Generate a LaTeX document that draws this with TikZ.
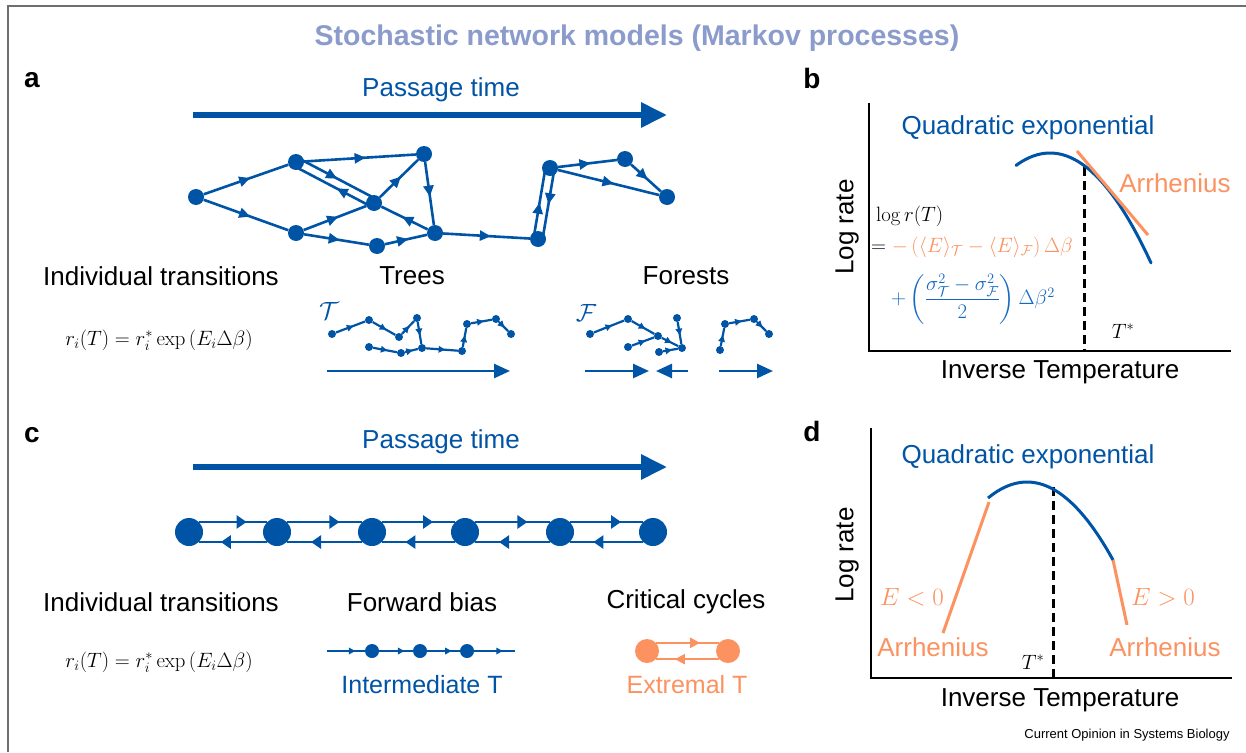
\documentclass[tikz,border=0pt]{standalone}
\usepackage{amsmath}
\usepackage[no-math]{fontspec}
\setmainfont{Liberation Sans}
\usetikzlibrary{arrows.meta,decorations.markings,calc}
\definecolor{nblue}{RGB}{0,84,166}
\definecolor{fblue}{RGB}{20,105,195}
\definecolor{norange}{RGB}{252,146,96}
\definecolor{ntitle}{RGB}{138,155,204}
\definecolor{ngray}{RGB}{110,110,110}
\tikzset{
  dot/.style={circle, fill=nblue, inner sep=0pt, minimum size=16pt},
  sdot/.style={circle, fill=nblue, inner sep=0pt, minimum size=8pt},
  bigdot/.style={circle, fill=nblue, inner sep=0pt, minimum size=28pt},
  mdot/.style={circle, fill=nblue, inner sep=0pt, minimum size=14pt},
  odot/.style={circle, fill=norange, inner sep=0pt, minimum size=24pt},
  edge/.style={nblue, line width=2.6pt},
  tedge/.style={nblue, line width=2.2pt},
  ma/.style={postaction={decorate}, decoration={markings, mark=at position #1 with {\arrow{Triangle[length=11pt,width=10pt]}}}},
  ma/.default=0.55,
  sma/.style={postaction={decorate}, decoration={markings, mark=at position #1 with {\arrow{Triangle[length=6.5pt,width=6.5pt]}}}},
  sma/.default=0.6,
  cma/.style={postaction={decorate}, decoration={markings, mark=at position #1 with {\arrow{Triangle[length=10pt,width=13pt]}}}},
  lbl/.style={font=\fontsize{26}{30}\selectfont, inner sep=0pt},
  plbl/.style={font=\fontsize{28}{32}\selectfont\bfseries, inner sep=0pt},
  bigarrow/.style={nblue, line width=6pt, -{Triangle[length=26pt,width=24pt]}},
  medarrow/.style={nblue, line width=2.6pt, -{Triangle[length=16pt,width=14pt]}},
  axis/.style={black, line width=2.6pt},
  dashln/.style={black, line width=3pt, dash pattern=on 9pt off 5pt},
}
\begin{document}
\begin{tikzpicture}[x=1pt,y=-1pt]
\useasboundingbox (0,0) rectangle (1246,752);
\fill[white] (0,0) rectangle (1246,752);
% frame
\draw[ngray, line width=2.2pt] (8,752) -- (8,6) -- (1246,6);
% title
\node[font=\fontsize{28.5}{32}\selectfont\bfseries, text=ntitle, inner sep=0pt] (title) at (637,38) {Stochastic network models (Markov processes)};
% panel labels
\node[plbl] (la) at (32,80) {a};
\node[plbl] (lb) at (812,78) {b};
\node[plbl] (lc) at (32,435) {c};
\node[plbl] (ld) at (812,431) {d};

% ---------- panel a ----------
\coordinate (pa0) at (193,115);
\coordinate (pa1) at (667,115);
\draw[bigarrow] (pa0) -- (pa1);
\node[lbl, text=nblue] (pta) at (441,90) {Passage time};

\node[dot] (n1) at (196,197) {};
\node[dot] (n2) at (296,162) {};
\node[dot] (n3) at (424,154) {};
\node[dot] (n4) at (374,203) {};
\node[dot] (n5) at (296,233) {};
\node[dot] (n6) at (377,246) {};
\node[dot] (n7) at (435,233) {};
\node[dot] (n8) at (538,239) {};
\node[dot] (n9) at (550,168) {};
\node[dot] (n10) at (625,159) {};
\node[dot] (n11) at (667,197) {};

\draw[edge, ma] (n1) -- (n2);
\draw[edge, ma] (n1) -- (n5);
\draw[edge, ma] (n2) -- (n3);
\draw[edge, ma=0.5] ($(n2)!4.5pt!90:(n4)$) -- ($(n4)!4.5pt!-90:(n2)$);
\draw[edge, ma=0.45] ($(n4)!4.5pt!90:(n2)$) -- ($(n2)!4.5pt!-90:(n4)$);
\draw[edge, ma] (n5) -- (n4);
\draw[edge, ma] (n4) -- (n3);
\draw[edge, ma] (n3) -- (n7);
\draw[edge, ma] (n5) -- (n6);
\draw[edge, ma] (n6) -- (n7);
\draw[edge, ma] (n7) -- (n4);
\draw[edge, ma] (n7) -- (n8);
\draw[edge, ma=0.5] ($(n8)!4.5pt!90:(n9)$) -- ($(n9)!4.5pt!-90:(n8)$);
\draw[edge, ma=0.5] ($(n9)!4.5pt!90:(n8)$) -- ($(n8)!4.5pt!-90:(n9)$);
\draw[edge, ma] (n9) -- (n10);
\draw[edge, ma] (n9) -- (n11);
\draw[edge, ma] (n10) -- (n11);

\node[lbl] (ita) at (161,276) {Individual transitions};
\node[lbl] (trees) at (412,276) {Trees};
\node[lbl] (forests) at (686,276) {Forests};
\node[inner sep=0pt, font=\fontsize{22}{26}\selectfont] (fa) at (159,340) {$r_i(T) = r_i^{*}\exp\left(E_i\Delta\beta\right)$};

% trees
\node[inner sep=0pt, text=nblue, font=\fontsize{28}{32}\selectfont] (calT) at (329,311) {$\mathcal{T}$};
\node[sdot] (t1) at (332,334) {};
\node[sdot] (t2) at (369,320) {};
\node[sdot] (t3) at (399,337) {};
\node[sdot] (t4) at (417,318) {};
\node[sdot] (t5) at (422,348) {};
\node[sdot] (t6) at (369,347) {};
\node[sdot] (t7) at (401,353) {};
\node[sdot] (t8) at (462,351) {};
\node[sdot] (t9) at (467,324) {};
\node[sdot] (t10) at (496,319) {};
\node[sdot] (t11) at (511,334) {};
\foreach \a/\b in {t1/t2,t2/t3,t3/t4,t4/t5,t6/t7,t7/t5,t5/t8,t8/t9,t9/t10,t10/t11}
  \draw[tedge, sma] (\a) -- (\b);
\coordinate (ta0) at (327,371);
\coordinate (ta1) at (510,371);
\draw[medarrow] (ta0) -- (ta1);

% forests
\node[inner sep=0pt, text=nblue, font=\fontsize{28}{32}\selectfont] (calF) at (586,313) {$\mathcal{F}$};
\node[sdot] (f1) at (590,334) {};
\node[sdot] (f2) at (628,319) {};
\node[sdot] (f3) at (658,336) {};
\node[sdot] (f4) at (677,318) {};
\node[sdot] (f5) at (682,348) {};
\node[sdot] (f6) at (628,347) {};
\node[sdot] (f7) at (659,352) {};
\foreach \a/\b in {f1/f2,f2/f3,f3/f5,f4/f5,f6/f3,f7/f5}
  \draw[tedge, sma] (\a) -- (\b);
\node[sdot] (g1) at (720,350) {};
\node[sdot] (g2) at (725,324) {};
\node[sdot] (g3) at (754,319) {};
\node[sdot] (g4) at (769,334) {};
\foreach \a/\b in {g1/g2,g2/g3,g3/g4}
  \draw[tedge, sma] (\a) -- (\b);
\coordinate (fa0) at (585,371);
\coordinate (fa1) at (649,371);
\coordinate (fb0) at (688,371);
\coordinate (fb1) at (656,371);
\coordinate (fc0) at (719,371);
\coordinate (fc1) at (773,371);
\draw[medarrow] (fa0) -- (fa1);
\draw[medarrow] (fb0) -- (fb1);
\draw[medarrow] (fc0) -- (fc1);

% ---------- panel b ----------
\coordinate (bo) at (869,351);
\coordinate (by) at (869,103);
\coordinate (bx) at (1231,351);
\draw[axis] (by) -- (bo) -- (bx);
\node[lbl, rotate=90] (blr) at (847,227) {Log rate};
\node[lbl] (bit) at (1060,372) {Inverse Temperature};
\coordinate (bd0) at (1084,167);
\coordinate (bd1) at (1084,350);
\draw[dashln] (bd0) -- (bd1);
\node[inner sep=0pt, font=\fontsize{22}{26}\selectfont] (bts) at (1123,331) {$T^{*}$};
\draw[nblue, line width=3pt, line cap=round, domain=1016:1151, samples=40] plot (\x, {153+0.01078*(\x-1050)*(\x-1050)});
\coordinate (bar0) at (1077,151);
\coordinate (bar1) at (1148,235);
\draw[norange, line width=3pt] (bar0) -- (bar1);
\node[lbl, text=nblue] (bqe) at (1028,128) {Quadratic exponential};
\node[lbl, text=norange] (bar) at (1175,183) {Arrhenius};
\node[anchor=west, inner sep=0pt, font=\fontsize{20}{24}\selectfont] (f1b) at (876,216) {$\log r(T)$};
\node[anchor=west, inner sep=0pt, font=\fontsize{20}{24}\selectfont] (f2b) at (871,247) {$={\color{norange}-\left(\langle E\rangle_{\mathcal{T}}-\langle E\rangle_{\mathcal{F}}\right)\Delta\beta}$};
\node[anchor=west, inner sep=0pt, text=fblue, font=\fontsize{20}{24}\selectfont] (f3b) at (891,299) {$+\left(\dfrac{\sigma_{\mathcal{T}}^2-\sigma_{\mathcal{F}}^2}{2}\right)\Delta\beta^2$};

% ---------- panel c ----------
\coordinate (pc0) at (193,467);
\coordinate (pc1) at (667,467);
\draw[bigarrow] (pc0) -- (pc1);
\node[lbl, text=nblue] (ptc) at (441,442) {Passage time};
\node[bigdot] (c1) at (189,532) {};
\node[bigdot] (c2) at (277,532) {};
\node[bigdot] (c3) at (372,532) {};
\node[bigdot] (c4) at (465,532) {};
\node[bigdot] (c5) at (560,532) {};
\node[bigdot] (c6) at (653,532) {};
\foreach \a/\b in {c1/c2,c2/c3,c3/c4,c4/c5,c5/c6}{
  \draw[edge, cma=0.7] (\a.45) -- (\b.135);
  \draw[edge, cma=0.68] (\b.-135) -- (\a.-45);
}
\node[lbl] (itc) at (161,602) {Individual transitions};
\node[lbl] (fbl) at (422,602) {Forward bias};
\node[lbl] (ccl) at (686,602) {Critical cycles};
\node[inner sep=0pt, font=\fontsize{22}{26}\selectfont] (fc) at (159,662) {$r_i(T) = r_i^{*}\exp\left(E_i\Delta\beta\right)$};

\coordinate (w0) at (327,651);
\node[mdot] (w1) at (372,651) {};
\node[mdot] (w2) at (420,651) {};
\node[mdot] (w3) at (467,651) {};
\coordinate (w4) at (515,651);
\draw[tedge, sma=0.75] (w0) -- (w1);
\draw[tedge, sma=0.75] (w1) -- (w2);
\draw[tedge, sma=0.75] (w2) -- (w3);
\draw[tedge, sma=0.7] (w3) -- (w4);
\node[lbl, text=nblue, font=\fontsize{25}{30}\selectfont] (imt) at (422,685) {Intermediate T};

\node[odot] (e1) at (647,651) {};
\node[odot] (e2) at (728,651) {};
\draw[norange, line width=2.4pt, postaction={decorate}, decoration={markings, mark=at position 0.7 with {\arrow{Triangle[length=10pt,width=10pt]}}}] (e1.42) -- (e2.138);
\draw[norange, line width=2.4pt, postaction={decorate}, decoration={markings, mark=at position 0.7 with {\arrow{Triangle[length=10pt,width=10pt]}}}] (e2.-138) -- (e1.-42);
\node[lbl, text=norange, font=\fontsize{25}{30}\selectfont] (ext) at (687,685) {Extremal T};

% ---------- panel d ----------
\coordinate (do) at (871,678);
\coordinate (dy) at (871,428);
\coordinate (dx) at (1232,678);
\draw[axis] (dy) -- (do) -- (dx);
\node[lbl, rotate=90] (dlr) at (847,555) {Log rate};
\node[lbl] (dit) at (1060,700) {Inverse Temperature};
\coordinate (dd0) at (1053,487);
\coordinate (dd1) at (1053,677);
\draw[dashln] (dd0) -- (dd1);
\node[inner sep=0pt, font=\fontsize{22}{26}\selectfont] (dts) at (1033,662) {$T^{*}$};
\coordinate (dl0) at (943,633);
\coordinate (dl1) at (989,502);
\coordinate (dr0) at (1113,560);
\coordinate (dr1) at (1127,625);
\draw[norange, line width=3pt] (dl0) -- (dl1);
\draw[norange, line width=3pt] (dr0) -- (dr1);
\draw[nblue, line width=3pt, domain=988:1113, samples=40] plot (\x, {482+0.01055*(\x-1027)*(\x-1027)});
\node[lbl, text=nblue] (dqe) at (1028,457) {Quadratic exponential};
\node[inner sep=0pt, text=norange, font=\fontsize{25}{30}\selectfont] (el) at (912,597) {$E<0$};
\node[inner sep=0pt, text=norange, font=\fontsize{25}{30}\selectfont] (eg) at (1163,597) {$E>0$};
\node[lbl, text=norange] (arl) at (933,647) {Arrhenius};
\node[lbl, text=norange] (arr) at (1165,647) {Arrhenius};

\node[inner sep=0pt, font=\fontsize{13}{15}\selectfont] (cop) at (1127,735) {Current Opinion in Systems Biology};
\end{tikzpicture}
\end{document}
